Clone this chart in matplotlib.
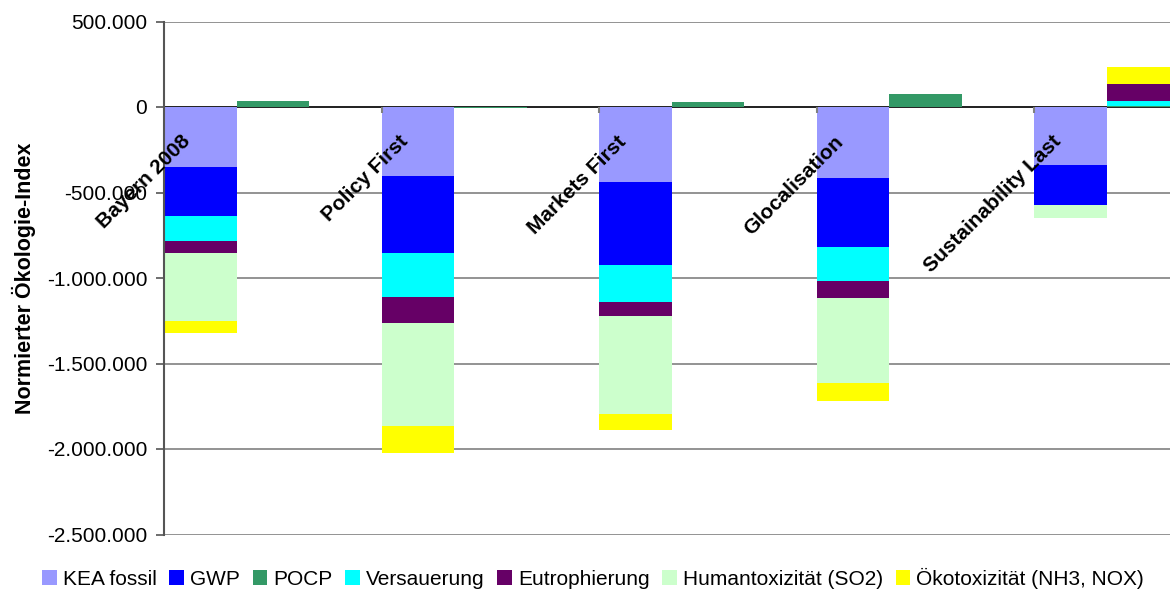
import matplotlib
matplotlib.use("Agg")
import matplotlib.pyplot as plt
from matplotlib.ticker import FuncFormatter, MultipleLocator
from matplotlib.patches import Patch
import numpy as np

plt.rcParams['font.family'] = ['Liberation Sans', 'DejaVu Sans']

scenarios = ["Bayern 2008", "Policy First", "Markets First", "Glocalisation", "Sustainability Last"]

series_names = ["KEA fossil", "GWP", "POCP", "Versauerung", "Eutrophierung",
                "Humantoxizität (SO2)", "Ökotoxizität (NH3, NOX)"]
series_colors = ["#9999FF", "#0000FF", "#339966", "#00FFFF", "#660066", "#CCFFCC", "#FFFF00"]

# Left column of each scenario (burdens)
kea_left = [-350000, -402000, -439000, -415000, -340000]
gwp_left = [-286000, -452000, -485000, -404000, -234000]
pocp_left = [0, 0, 0, 0, 0]
vers_left = [-146000, -255000, -216000, -200000, 0]
eutr_left = [-70000, -152000, -82000, -100000, 0]
human_left = [-398000, -602000, -571000, -497000, -74000]
oeko_left = [-70000, -160000, -95000, -105000, 0]

# Right column of each scenario
kea_right = [0, 0, 0, 0, 0]
gwp_right = [0, 0, 0, 0, 0]
pocp_right = [33000, -8000, 30000, 76000, 3000]
vers_right = [0, 0, 0, 0, 33000]
eutr_right = [0, 0, 0, 0, 101000]
human_right = [0, 0, 0, 0, 0]
oeko_right = [0, 0, 0, 0, 94000]

left_cols = [kea_left, gwp_left, pocp_left, vers_left, eutr_left, human_left, oeko_left]
right_cols = [kea_right, gwp_right, pocp_right, vers_right, eutr_right, human_right, oeko_right]

fig = plt.figure(figsize=(11.7, 5.93), dpi=100)
ax = fig.add_axes([164 / 1170, 1 - 534.5 / 593, 1 - 164 / 1170, (534.5 - 21.5) / 593])

bar_w = 1 / 3
cat = np.arange(len(scenarios))


def draw_stack(columns, offset):
    pos_base = np.zeros(len(scenarios))
    neg_base = np.zeros(len(scenarios))
    for vals, color in zip(columns, series_colors):
        v = np.array(vals, dtype=float)
        bottoms = np.where(v >= 0, pos_base, neg_base)
        ax.bar(cat + offset, v, width=bar_w, bottom=bottoms, align='edge',
               color=color, edgecolor='none', linewidth=0, zorder=3)
        pos_base = pos_base + np.where(v > 0, v, 0)
        neg_base = neg_base + np.where(v < 0, v, 0)


draw_stack(left_cols, 0.0)
draw_stack(right_cols, bar_w)

ax.set_xlim(0, (1170 - 164) / 217.6)
ax.set_ylim(-2500000, 500000)
ax.yaxis.set_major_locator(MultipleLocator(500000))
ax.yaxis.set_major_formatter(FuncFormatter(lambda v, p: f"{int(round(v)):,}".replace(",", ".")))
ax.grid(axis='y', color='#808080', linewidth=1.2, zorder=1)
ax.axhline(0, color='#1a1a1a', linewidth=1.3, zorder=2)
ax.set_xticks([])
ax.tick_params(axis='y', direction='out', length=6, width=1.2, color='#555555',
               labelsize=15, pad=6)
for s in ['top', 'right', 'bottom']:
    ax.spines[s].set_visible(False)
ax.spines['left'].set_color('#555555')
ax.spines['left'].set_linewidth(1.5)
ax.spines['left'].set_zorder(4)

# category tick marks on the zero line
ax.plot(cat[1:], np.zeros(len(cat) - 1), linestyle='none', marker=3, markersize=4.5,
        markeredgewidth=1.5, color='#808080', clip_on=False, zorder=4)

# category labels, rotated
for i, name in enumerate(scenarios):
    ax.annotate(name, xy=(i, 0), xytext=(17, -25), textcoords='offset pixels',
                rotation=45, rotation_mode='anchor', ha='right', va='top',
                fontsize=15, fontweight='bold', zorder=5)

ax.set_ylabel("Normierter Ökologie-Index", fontsize=15.5, fontweight='bold', labelpad=8)

handles = [Patch(facecolor=c, edgecolor='none') for c in series_colors]
fig.legend(handles, series_names, loc='center', bbox_to_anchor=(0.507, 1 - 578 / 593),
           ncol=7, frameon=False, fontsize=15, handlelength=0.7, handleheight=0.7,
           handletextpad=0.3, columnspacing=0.6, borderaxespad=0)

fig.savefig("out.png", dpi=100)
